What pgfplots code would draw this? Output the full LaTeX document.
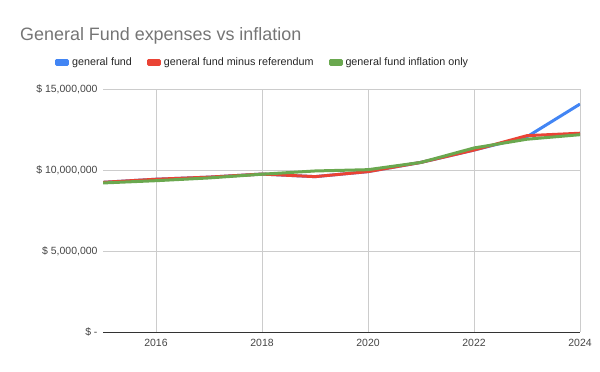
\documentclass[border=0pt]{standalone}
\usepackage{fontspec}
\setmainfont{Liberation Sans}
\usepackage{pgfplots}
\pgfplotsset{compat=1.18}
\definecolor{gblue}{HTML}{4285F4}
\definecolor{gred}{HTML}{EA4335}
\definecolor{ggreen}{HTML}{6AA84F}
\definecolor{gridc}{HTML}{CCCCCC}
\definecolor{titlec}{HTML}{757575}
\definecolor{tickc}{HTML}{444444}
\begin{document}
\begin{tikzpicture}[x=1bp,y=1bp]
\useasboundingbox (0,0) rectangle (600,371);
\node[anchor=base west, text=titlec, font=\fontsize{18}{20}\selectfont, inner sep=0] at (20,331) {General Fund expenses vs inflation};
\begin{axis}[
  at={(103bp,39bp)}, anchor=south west,
  scale only axis, width=477bp, height=243bp,
  xmin=2015, xmax=2024, ymin=0, ymax=15000000,
  xtick={2016,2018,2020,2022,2024},
  xticklabels={2016,2018,2020,2022,2024},
  ytick={0,5000000,10000000,15000000},
  yticklabels={{\$ -},{\$ 5,000,000},{\$ 10,000,000},{\$ 15,000,000}},
  scaled y ticks=false, scaled x ticks=false,
  axis x line*=bottom, axis y line*=left,
  y axis line style={draw=none},
  x axis line style={draw=black!80, line width=1bp},
  major tick length=0pt,
  grid=major, grid style={gridc, line width=0.8bp},
  tick label style={text=tickc, font=\fontsize{10.5}{12}\selectfont},
  xticklabel style={yshift=-4bp},
  yticklabel style={xshift=-2bp},
  legend columns=3,
  legend style={at={(-0.107,1.111)}, anchor=west, draw=none, fill=none,
    font=\fontsize{10.8}{13}\selectfont, text=black!85,
    /tikz/every odd column/.append style={column sep=0bp},
    /tikz/every even column/.append style={column sep=12bp},
    nodes={inner xsep=3bp}},
  legend image code/.code={\fill[#1] (0bp,-2bp) rectangle (11bp,2bp);},
  every axis plot/.append style={line width=3bp, line join=round},
]
\addplot[gblue] coordinates {(2015,9240000) (2016,9430000) (2017,9560000) (2018,9750000) (2019,9590000) (2020,9900000) (2021,10470000) (2022,11230000) (2023,12050000) (2024,14070000)};
\addlegendentry{general fund}
\addplot[gred] coordinates {(2015,9240000) (2016,9430000) (2017,9560000) (2018,9750000) (2019,9590000) (2020,9900000) (2021,10470000) (2022,11230000) (2023,12120000) (2024,12270000)};
\addlegendentry{general fund minus referendum}
\addplot[ggreen] coordinates {(2015,9200000) (2016,9340000) (2017,9510000) (2018,9740000) (2019,9940000) (2020,10020000) (2021,10470000) (2022,11360000) (2023,11900000) (2024,12180000)};
\addlegendentry{general fund inflation only}
\end{axis}
\end{tikzpicture}
\end{document}
